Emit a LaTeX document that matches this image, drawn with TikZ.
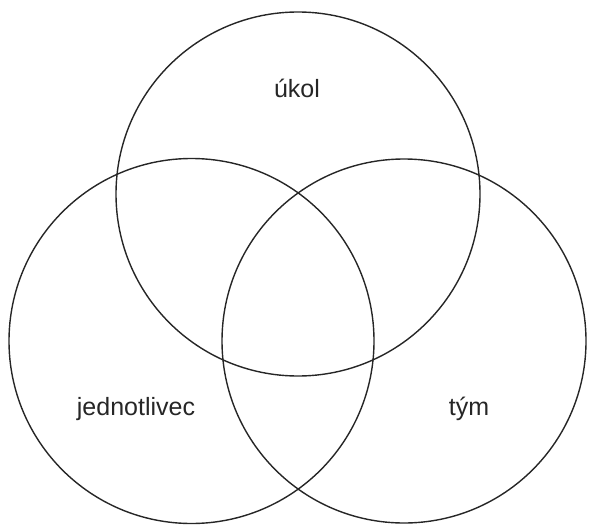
\documentclass[tikz,border=0pt]{standalone}
\usepackage{fontspec}
\setmainfont{Liberation Sans}
\begin{document}
\begin{tikzpicture}[x=1pt,y=-1pt,
  ring/.style={draw=black!85,line width=1.4pt},
  lbl/.style={font=\fontsize{25}{30}\selectfont,text=black!85,anchor=base,inner sep=0pt}]
\useasboundingbox (0,0) rectangle (589,527);
\draw[ring] (298,194) circle[radius=182];
\draw[ring] (191.5,341) circle[radius=182.5];
\draw[ring] (404,341) circle[radius=182];
\node[lbl] (ukol) at (297,97) {úkol};
\node[lbl] (jed) at (136,415) {jednotlivec};
\node[lbl] (tym) at (469,415) {tým};
\end{tikzpicture}
\end{document}
